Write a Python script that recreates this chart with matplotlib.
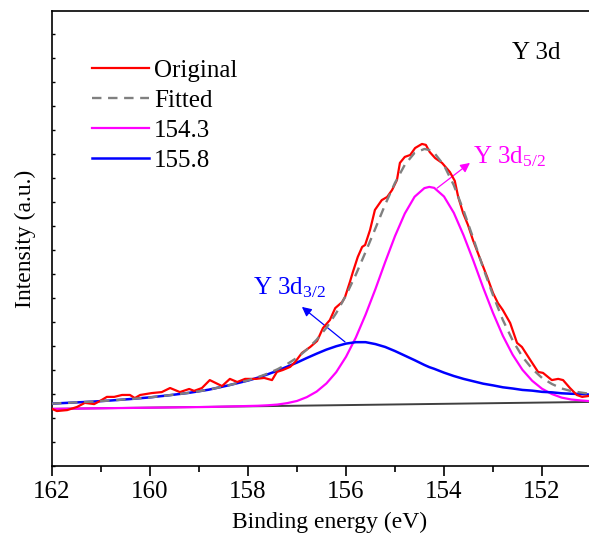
import matplotlib
matplotlib.use("Agg")
import matplotlib.pyplot as plt
from matplotlib.ticker import MultipleLocator, NullFormatter

plt.rcParams['font.family'] = ['Liberation Serif', 'DejaVu Serif']
plt.rcParams['mathtext.fontset'] = 'custom'
plt.rcParams['mathtext.rm'] = 'Liberation Serif'
plt.rcParams['mathtext.it'] = 'Liberation Serif:italic'

# ---------------- data ----------------
orig_x = [162.00, 161.90, 161.69, 161.49, 161.33, 161.14, 161.02, 160.88, 160.73, 160.57,
          160.41, 160.31, 160.20, 159.96, 159.76, 159.59, 159.39, 159.20, 159.10, 158.94,
          158.78, 158.53, 158.37, 158.22, 158.06, 157.84, 157.67, 157.51, 157.41, 157.29,
          157.14, 157.04, 156.90, 156.73, 156.59, 156.47, 156.33, 156.22, 156.08, 156.02,
          155.92, 155.86, 155.76, 155.67, 155.61, 155.51, 155.41, 155.27, 155.16, 155.06,
          154.96, 154.90, 154.80, 154.69, 154.59, 154.45, 154.37, 154.29, 154.18, 154.04,
          153.88, 153.78, 153.71, 153.61, 153.51, 153.41, 153.27, 153.12, 153.00, 152.90,
          152.80, 152.65, 152.51, 152.41, 152.24, 152.08, 151.98, 151.80, 151.67, 151.57,
          151.43, 151.29, 151.18, 151.04]
orig_y = [2.38, 2.29, 2.33, 2.46, 2.63, 2.58, 2.71, 2.88, 2.88, 2.96,
          2.96, 2.83, 2.96, 3.04, 3.08, 3.25, 3.08, 3.21, 3.13, 3.25,
          3.58, 3.33, 3.63, 3.50, 3.63, 3.63, 3.67, 3.58, 3.92, 4.00,
          4.13, 4.33, 4.71, 4.96, 5.21, 5.75, 6.08, 6.58, 6.83, 7.04,
          7.67, 8.08, 8.71, 9.13, 9.21, 9.83, 10.67, 11.08, 11.21, 11.50,
          11.92, 12.63, 12.88, 12.96, 13.25, 13.42, 13.38, 13.08, 12.83, 12.63,
          12.25, 11.88, 11.21, 10.54, 10.04, 9.42, 8.67, 7.88, 7.21, 6.79,
          6.50, 5.96, 5.13, 4.96, 4.42, 3.92, 3.88, 3.58, 3.63, 3.58,
          3.25, 2.96, 2.88, 2.92]

fit_x = [162.0, 161.6, 161.2, 160.8, 160.4, 160.0, 159.6, 159.2, 158.8, 158.4,
         158.0, 157.8, 157.6, 157.4, 157.2, 157.0, 156.8, 156.6, 156.4, 156.2,
         156.0, 155.8, 155.6, 155.4, 155.2, 155.0, 154.8, 154.6, 154.4, 154.3,
         154.2, 154.0, 153.8, 153.6, 153.4, 153.2, 153.0, 152.8, 152.6, 152.4,
         152.2, 152.0, 151.8, 151.6, 151.4, 151.2, 151.0]
fitted_y = [2.60, 2.64, 2.68, 2.73, 2.79, 2.86, 2.95, 3.05, 3.18, 3.36,
            3.57, 3.70, 3.85, 4.03, 4.25, 4.51, 4.85, 5.26, 5.76, 6.37,
            7.11, 7.97, 8.92, 9.90, 10.90, 11.80, 12.55, 13.05, 13.21, 13.17,
            13.05, 12.53, 11.70, 10.64, 9.47, 8.25, 7.12, 6.09, 5.24, 4.55,
            4.05, 3.67, 3.42, 3.23, 3.12, 3.06, 3.00]
peak1_y = [2.38, 2.39, 2.40, 2.41, 2.42, 2.43, 2.44, 2.45, 2.46, 2.48,
           2.50, 2.51, 2.53, 2.56, 2.62, 2.71, 2.87, 3.10, 3.44, 3.91,
           4.55, 5.35, 6.31, 7.37, 8.50, 9.58, 10.52, 11.22, 11.58, 11.63,
           11.59, 11.23, 10.55, 9.61, 8.55, 7.43, 6.38, 5.43, 4.64, 4.01,
           3.55, 3.22, 3.00, 2.85, 2.77, 2.73, 2.70]
peak2_y = [2.60, 2.64, 2.68, 2.73, 2.79, 2.86, 2.95, 3.05, 3.18, 3.36,
           3.56, 3.68, 3.82, 3.97, 4.14, 4.31, 4.50, 4.68, 4.85, 4.99,
           5.10, 5.16, 5.16, 5.08, 4.96, 4.79, 4.60, 4.41, 4.21, 4.12,
           4.05, 3.89, 3.75, 3.63, 3.53, 3.43, 3.36, 3.28, 3.23, 3.17,
           3.14, 3.09, 3.07, 3.03, 3.01, 3.00, 2.97]
base_x = [162.0, 151.0]
base_y = [2.38, 2.67]

labels = ["Original", "Fitted", "154.3", "155.8"]

# ---------------- figure ----------------
fig = plt.figure(figsize=(5.89, 5.40), dpi=100)
ax = fig.add_axes([52/589, 74/540, 537/589, 455/540])

ax.plot(base_x, base_y, color='#404040', lw=1.4, zorder=2)
ax.plot(orig_x, orig_y, color='#FF0000', lw=1.6, label=labels[0], zorder=4)
ax.plot(fit_x, fitted_y, color='#808080', lw=1.7, ls=(0, (4, 2.8)), label=labels[1], zorder=5)
ax.plot(fit_x, peak1_y, color='#FF00FF', lw=1.6, label=labels[2], zorder=3)
ax.plot(fit_x, peak2_y, color='#0000FF', lw=1.8, label=labels[3], zorder=3)

ax.set_xlim(162, 162 - 537/49)
ax.set_ylim(0, 18.96)

ax.xaxis.set_major_locator(MultipleLocator(2))
ax.xaxis.set_minor_locator(MultipleLocator(1))
ax.yaxis.set_major_locator(MultipleLocator(1))
ax.yaxis.set_major_formatter(NullFormatter())

ax.tick_params(axis='x', which='major', direction='out', length=7, width=1.2,
               labelsize=18, pad=4, top=False)
ax.tick_params(axis='x', which='minor', direction='out', length=4, width=1.2, top=False)
ax.tick_params(axis='y', which='major', direction='in', length=2, width=1.0, right=False)

ax.spines['right'].set_visible(False)
for s in ['left', 'bottom', 'top']:
    ax.spines[s].set_linewidth(1.2)

ax.set_xlabel("Binding energy (eV)", fontsize=17)
ax.set_ylabel("Intensity (a.u.)", fontsize=17, labelpad=8)
ax.xaxis.set_label_coords((330 - 52) / 537, -0.10)

leg = ax.legend(loc='upper left', bbox_to_anchor=(0.055, 0.915), frameon=False,
                fontsize=18, handlelength=2.3, handletextpad=0.2,
                labelspacing=0.3, borderaxespad=0)

ax.text(0.857, 0.908, "Y 3d", transform=ax.transAxes, fontsize=18,
        ha='left', va='center')

ax.annotate("", xy=(156.90, 6.63), xytext=(156.02, 5.17),
            arrowprops=dict(arrowstyle='-|>', color='#0000FF', lw=0.9,
                            mutation_scale=14, shrinkA=0, shrinkB=0))
ax.text(157.90, 7.42, r"Y 3d$\mathregular{_{3/2}}$", color='#0000FF', fontsize=18,
        ha='left', va='center')

ax.annotate("", xy=(153.47, 12.63), xytext=(154.14, 11.58),
            arrowprops=dict(arrowstyle='-|>', color='#FF00FF', lw=0.9,
                            mutation_scale=14, shrinkA=0, shrinkB=0))
ax.text(153.41, 12.875, r"Y 3d$\mathregular{_{5/2}}$", color='#FF00FF', fontsize=18,
        ha='left', va='center')

fig.savefig("out.png", dpi=100)
